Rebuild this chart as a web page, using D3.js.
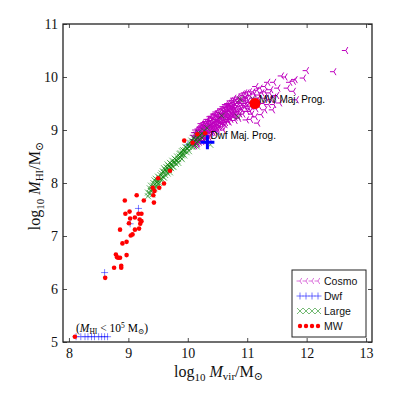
<!DOCTYPE html>
<html><head><meta charset="utf-8">
<script src="https://cdn.jsdelivr.net/npm/d3@7"></script>
<style>body{margin:0;background:#fff}svg{display:block}</style>
</head><body>
<svg id="c" width="399" height="399"></svg>
<script>
// ---- data ----
const xTicks = [8, 9, 10, 11, 12, 13];
const yTicks = [5, 6, 7, 8, 9, 10, 11];
const legendLabels = ["Cosmo", "Dwf", "Large", "MW"];

const cosmoX = [10.12,10.15,10.18,10.14,10.2,10.17,10.19,10.13,
 10.22,10.25,10.27,10.24,10.28,10.3,10.26,10.21,10.29,10.23,
 10.32,10.35,10.37,10.34,10.38,10.4,10.33,10.36,10.39,10.31,10.38,
 10.42,10.45,10.47,10.44,10.48,10.5,10.43,10.46,10.49,10.41,10.5,
 10.52,10.55,10.57,10.54,10.58,10.6,10.53,10.56,10.59,10.51,10.6,
 10.62,10.65,10.67,10.64,10.68,10.7,10.63,10.66,10.69,10.61,10.7,
 10.72,10.75,10.77,10.74,10.78,10.8,10.73,10.76,10.79,10.71,10.8,
 10.82,10.85,10.87,10.84,10.88,10.9,10.83,10.86,10.89,10.81,
 10.92,10.95,10.97,10.94,10.98,11.0,10.93,10.96,10.99,10.99,
 11.02,11.05,11.07,11.04,11.08,11.1,11.03,11.06,
 11.12,11.15,11.17,11.14,11.19,11.18,
 11.22,11.24,11.25,11.28,11.3,11.32,11.36,11.35,11.38,
 11.40,11.40,11.43,11.45,11.5,11.52,11.55,11.58,
 11.64,11.68,11.72,11.78,11.78,11.81,11.83,11.95,12.0,12.46,12.66,
 10.10,10.10,10.10,10.12,10.12,10.12,10.14,10.14,10.14,10.16,10.16,10.16,
 10.18,10.18,10.18,10.20,10.20,10.20,10.22,10.22,10.22,10.24,10.24,10.24,
 10.26,10.26,10.26,10.28,10.28,10.28,10.30,10.30,10.30,10.32,10.32,10.32,
 10.34,10.34,10.34,10.36,10.36,10.36,10.38,10.38,10.38,10.40,10.40,10.40,10.40,
 10.42,10.42,10.42,10.44,10.44,10.44,10.46,10.46,10.46,10.48,10.48,10.48,
 10.50,10.50,10.50,10.52,10.52,10.52,10.54,10.54,10.54,10.56,10.56,10.56,
 10.58,10.58,10.58,10.60,10.60,10.60,10.62,10.62,10.62,10.64,10.64,10.64,
 10.66,10.66,10.66,10.68,10.68,10.68,10.70,10.70,10.70,10.72,10.72,10.72,
 10.74,10.74,10.74,10.76,10.76,10.76,10.78,10.78,10.78,10.80,10.80,10.80,
 10.84,10.84,10.84,10.88,10.88,10.88,10.92,10.92,10.92,10.96,10.96,
 11.0,11.0,11.0,11.05,11.05,11.1,11.1,11.15,11.15,11.2,11.2,11.3,11.3,11.45,11.45];
const cosmoY = [8.78,8.85,8.92,8.95,8.82,8.75,8.99,8.88,
 8.9,8.95,9.02,9.08,8.86,9.1,8.8,9.05,8.97,9.12,
 9.0,9.05,9.12,8.92,8.98,9.18,9.2,8.86,9.08,9.15,9.25,
 9.1,9.15,9.02,9.22,9.28,9.1,8.95,9.3,9.19,9.04,8.98,
 9.2,9.25,9.12,9.33,9.38,9.22,9.05,9.3,9.15,9.28,9.0,
 9.3,9.35,9.2,9.42,9.45,9.28,9.1,9.25,9.38,9.4,9.15,
 9.35,9.4,9.28,9.5,9.52,9.3,9.2,9.45,9.38,9.48,9.18,
 9.42,9.5,9.35,9.58,9.6,9.4,9.28,9.22,9.52,9.55,
 9.5,9.58,9.42,9.65,9.62,9.35,9.3,9.7,9.5,9.19,
 9.55,9.65,9.45,9.72,9.3,9.6,9.4,9.2,
 9.68,9.4,9.75,9.25,9.6,9.13,
 9.79,9.29,9.7,9.5,9.82,9.6,9.48,9.9,9.7,
 9.76,9.58,9.38,9.9,9.65,9.79,9.51,10.02,
 10.0,9.79,9.9,9.92,9.73,9.95,9.57,9.98,10.12,10.1,10.5,
 8.72,8.82,8.9,8.8,8.7,8.95,8.78,8.86,9.0,8.73,8.9,8.96,
 8.8,8.86,9.02,8.77,8.94,9.0,8.84,8.98,9.06,8.78,8.92,9.02,
 8.88,8.96,9.1,8.8,9.05,9.14,8.84,8.93,9.02,8.9,9.08,9.16,
 8.82,8.98,9.12,8.95,9.04,9.2,8.9,9.06,9.16,8.95,9.02,9.1,9.26,
 8.98,9.18,9.24,9.04,9.12,9.3,8.98,9.08,9.2,9.06,9.14,9.34,
 9.02,9.2,9.25,9.1,9.16,9.36,9.08,9.18,9.26,9.14,9.22,9.4,
 9.06,9.26,9.32,9.12,9.3,9.44,9.18,9.24,9.36,9.14,9.3,9.48,
 9.2,9.34,9.42,9.16,9.3,9.5,9.24,9.36,9.46,9.22,9.42,9.55,
 9.3,9.38,9.45,9.26,9.34,9.56,9.32,9.44,9.6,9.24,9.4,9.48,
 9.34,9.46,9.62,9.3,9.44,9.54,9.38,9.58,9.68,9.46,9.55,
 9.6,9.7,9.45,9.35,9.52,9.5,9.72,9.55,9.82,9.45,9.66,9.38,9.72,9.62,9.48];

const dwfX = [9.17,9.03,8.60,10.0,8.12,8.2,8.27,8.32,8.38,8.43,8.5,8.55,8.6,8.65];
const dwfY = [7.52,7.23,6.31,8.72,5.1,5.1,5.1,5.1,5.1,5.1,5.1,5.1,5.1,5.1];

const largeX = [9.33,9.33,9.36,9.36,9.38,9.38,9.40,9.40,9.42,9.42,9.44,9.44,9.46,9.46,9.48,9.48,
 9.50,9.50,9.50,9.52,9.52,9.54,9.54,9.56,9.56,9.58,9.58,9.60,9.60,9.60,9.62,9.62,9.64,9.64,
 9.66,9.66,9.66,9.68,9.68,9.70,9.70,9.70,9.72,9.72,9.74,9.74,9.76,9.76,9.78,9.78,9.80,9.80,
 9.82,9.82,9.84,9.84,9.86,9.86,9.88,9.88,9.90,9.90,9.90,9.92,9.92,9.94,9.94,9.96,9.96,9.98,9.98,
 10.00,10.00,10.02,10.02,10.04,10.04,10.06,10.06,10.08,10.08,10.10,10.10,10.12,10.12,10.14,10.14,
 10.16,10.16,10.18,10.18,10.20,10.20,10.24,10.24,10.28,10.28,10.15,10.38,
 10.32,10.57,10.84,10.88,11.10];
const largeY = [7.82,7.75,7.9,7.8,7.85,7.95,7.88,7.78,7.95,8.0,7.9,8.05,7.98,8.08,8.02,7.92,
 8.05,8.12,7.98,8.1,8.0,8.15,8.06,8.08,8.18,8.12,8.22,8.2,8.1,8.28,8.15,8.25,8.22,8.3,
 8.18,8.28,8.35,8.25,8.32,8.3,8.2,8.38,8.28,8.36,8.32,8.42,8.38,8.3,8.4,8.46,8.36,8.44,
 8.42,8.5,8.45,8.38,8.5,8.55,8.48,8.56,8.52,8.6,8.45,8.55,8.62,8.6,8.52,8.62,8.68,8.58,8.66,
 8.65,8.72,8.68,8.6,8.7,8.76,8.72,8.8,8.75,8.68,8.78,8.85,8.8,8.72,8.82,8.9,
 8.85,8.78,8.88,8.95,8.9,8.82,8.92,8.85,8.98,8.9,8.69,8.72,
 9.04,9.27,9.25,9.58,9.58];

const mwX = [10.29,10.16,10.08,9.94,9.70,9.50,9.60,9.41,9.52,9.44,9.14,8.94,9.26,9.42,9.43,
 9.02,8.95,9.17,9.22,9.03,9.11,9.19,9.22,9.01,9.20,8.86,9.11,9.18,9.04,9.07,
 8.90,8.97,8.79,8.83,8.86,8.81,8.97,8.76,8.88,8.88,8.61,8.10];
const mwY = [8.94,8.92,8.76,8.80,8.23,8.09,7.99,7.91,7.91,7.85,7.77,7.67,7.67,7.77,7.63,
 7.46,7.42,7.42,7.42,7.33,7.35,7.31,7.28,7.24,7.23,7.12,7.12,7.14,7.01,7.03,
 6.86,6.89,6.65,6.59,6.59,6.60,6.64,6.40,6.44,6.40,6.21,5.1];

const mwProg = [11.13, 9.50];
const dwfProg = [10.33, 8.77];

// ---- layout ----
const svg = d3.select("#c");
const L = 63, R = 372, T = 24, B = 342;
const x = d3.scaleLinear().domain([7.9, 13.1]).range([L, R]);
const y = d3.scaleLinear().domain([5, 11]).range([B, T]);
const serif = "'Liberation Serif','DejaVu Serif',serif";
const sans = "'Liberation Sans',Arial,sans-serif";

const g = svg.append("g");

// markers
const triLeft = s => `M0,0L${-s},0M0,0L${s*0.5},${-s*0.866}M0,0L${s*0.5},${s*0.866}`;
const plus = s => `M${-s},0L${s},0M0,${-s}L0,${s}`;
const cross = s => `M${-s},${-s}L${s},${s}M${-s},${s}L${s},${-s}`;

g.selectAll(".cosmo").data(d3.range(cosmoX.length)).join("path")
  .attr("transform", i => `translate(${x(cosmoX[i])},${y(cosmoY[i])})`)
  .attr("d", triLeft(4)).attr("stroke", "#bf00bf").attr("stroke-width", 1).attr("fill", "none");

g.selectAll(".dwf").data(d3.range(dwfX.length)).join("path")
  .attr("transform", i => `translate(${x(dwfX[i])},${y(dwfY[i])})`)
  .attr("d", plus(3.5)).attr("stroke", "#0000ff").attr("stroke-opacity", 0.5).attr("stroke-width", 1).attr("fill", "none");

g.selectAll(".large").data(d3.range(largeX.length)).join("path")
  .attr("transform", i => `translate(${x(largeX[i])},${y(largeY[i])})`)
  .attr("d", cross(3)).attr("stroke", "#008000").attr("stroke-opacity", 0.75).attr("stroke-width", 0.8).attr("fill", "none");

g.selectAll(".mw").data(d3.range(mwX.length)).join("circle")
  .attr("cx", i => x(mwX[i])).attr("cy", i => y(mwY[i])).attr("r", 2.3).attr("fill", "#ff0000");

// progenitors
g.append("circle").attr("cx", x(mwProg[0])).attr("cy", y(mwProg[1])).attr("r", 5.5).attr("fill", "#ff0000");
g.append("path").attr("transform", `translate(${x(dwfProg[0])},${y(dwfProg[1])})`)
  .attr("d", plus(7)).attr("stroke", "#0000ff").attr("stroke-width", 3);
g.append("text").attr("x", x(mwProg[0]) + 4).attr("y", y(mwProg[1]) - 1)
  .attr("font-family", sans).attr("font-size", 10).text("MW Maj. Prog.");
g.append("text").attr("x", x(dwfProg[0]) + 3).attr("y", y(dwfProg[1]) - 3)
  .attr("font-family", sans).attr("font-size", 10).text("Dwf Maj. Prog.");

// annotation
const ann = g.append("text").attr("x", 76).attr("y", 332).attr("font-family", serif).attr("font-size", 11.5);
ann.append("tspan").text("(");
ann.append("tspan").attr("font-style", "italic").text("M");
ann.append("tspan").attr("font-size", 7.5).attr("dy", 2).text("HI");
ann.append("tspan").attr("dy", -2).text(" < 10");
ann.append("tspan").attr("font-size", 7.5).attr("dy", -4).text("5");
ann.append("tspan").attr("dy", 4).text(" M");
ann.append("tspan").attr("font-size", 7.5).attr("dy", 2).text("⊙");
ann.append("tspan").attr("dy", -2).text(")");

// axes
function styleAxis(sel, labels) {
  sel.select(".domain").remove();
  sel.selectAll(".tick line").attr("stroke", "#222").attr("stroke-width", 0.8);
  sel.selectAll(".tick text").attr("font-family", serif).attr("font-size", 14).attr("fill", "#111");
  if (!labels) sel.selectAll(".tick text").remove();
}
svg.append("g").attr("transform", `translate(0,${B})`)
  .call(d3.axisBottom(x).tickValues(xTicks).tickFormat(d3.format("d")).tickSize(-4).tickPadding(6))
  .call(s => styleAxis(s, true));
svg.append("g").attr("transform", `translate(0,${T})`)
  .call(d3.axisTop(x).tickValues(xTicks).tickSize(-4)).call(s => styleAxis(s, false));
svg.append("g").attr("transform", `translate(${L},0)`)
  .call(d3.axisLeft(y).tickValues(yTicks).tickFormat(d3.format("d")).tickSize(-4).tickPadding(5))
  .call(s => styleAxis(s, true));
svg.append("g").attr("transform", `translate(${R},0)`)
  .call(d3.axisRight(y).tickValues(yTicks).tickSize(-4)).call(s => styleAxis(s, false));
svg.append("rect").attr("x", L).attr("y", T).attr("width", R - L).attr("height", B - T)
  .attr("fill", "none").attr("stroke", "#222").attr("stroke-width", 1.3);

// axis labels
const xl = svg.append("text").attr("x", (L + R) / 2 + 1).attr("y", 377).attr("text-anchor", "middle")
  .attr("font-family", serif).attr("font-size", 16).attr("fill", "#111");
xl.append("tspan").text("log");
xl.append("tspan").attr("font-size", 11).attr("dy", 4).text("10");
xl.append("tspan").attr("dy", -4).text(" ");
xl.append("tspan").attr("font-style", "italic").text("M");
xl.append("tspan").attr("font-size", 11).attr("dy", 3).text("vir");
xl.append("tspan").attr("dy", -3).text("/M");
xl.append("tspan").attr("font-size", 11).attr("dy", 3).text("⊙");

const yl = svg.append("text").attr("transform", `translate(40,${(T + B) / 2 + 3}) rotate(-90)`)
  .attr("text-anchor", "middle").attr("font-family", serif).attr("font-size", 16).attr("fill", "#111");
yl.append("tspan").text("log");
yl.append("tspan").attr("font-size", 11).attr("dy", 4).text("10");
yl.append("tspan").attr("dy", -4).text(" ");
yl.append("tspan").attr("font-style", "italic").text("M");
yl.append("tspan").attr("font-size", 11).attr("dy", 3).text("HI");
yl.append("tspan").attr("dy", -3).text("/M");
yl.append("tspan").attr("font-size", 11).attr("dy", 3).text("⊙");

// legend
const lg = svg.append("g");
lg.append("rect").attr("x", 292).attr("y", 270).attr("width", 74).attr("height", 67)
  .attr("fill", "#fff").attr("stroke", "#222").attr("stroke-width", 1);
const legRows = [281, 296, 311, 326];
const legColors = ["#bf00bf", "#0000ff", "#008000", "#ff0000"];
const legMarks = [triLeft(3.5), plus(3.5), cross(3)];
const legXs = [300, 306, 312, 318];
legendLabels.forEach((lab, k) => {
  legXs.forEach(px => {
    if (k < 3) {
      lg.append("path").attr("transform", `translate(${px},${legRows[k]})`).attr("d", legMarks[k])
        .attr("stroke", legColors[k]).attr("stroke-opacity", 0.6).attr("stroke-width", 0.9).attr("fill", "none");
    } else {
      lg.append("circle").attr("cx", px).attr("cy", legRows[k]).attr("r", 2.2).attr("fill", legColors[k]);
    }
  });
  lg.append("text").attr("x", 324).attr("y", legRows[k] + 4).attr("font-family", sans).attr("font-size", 10.5)
    .attr("fill", "#111").text(lab);
});
</script>
</body></html>
